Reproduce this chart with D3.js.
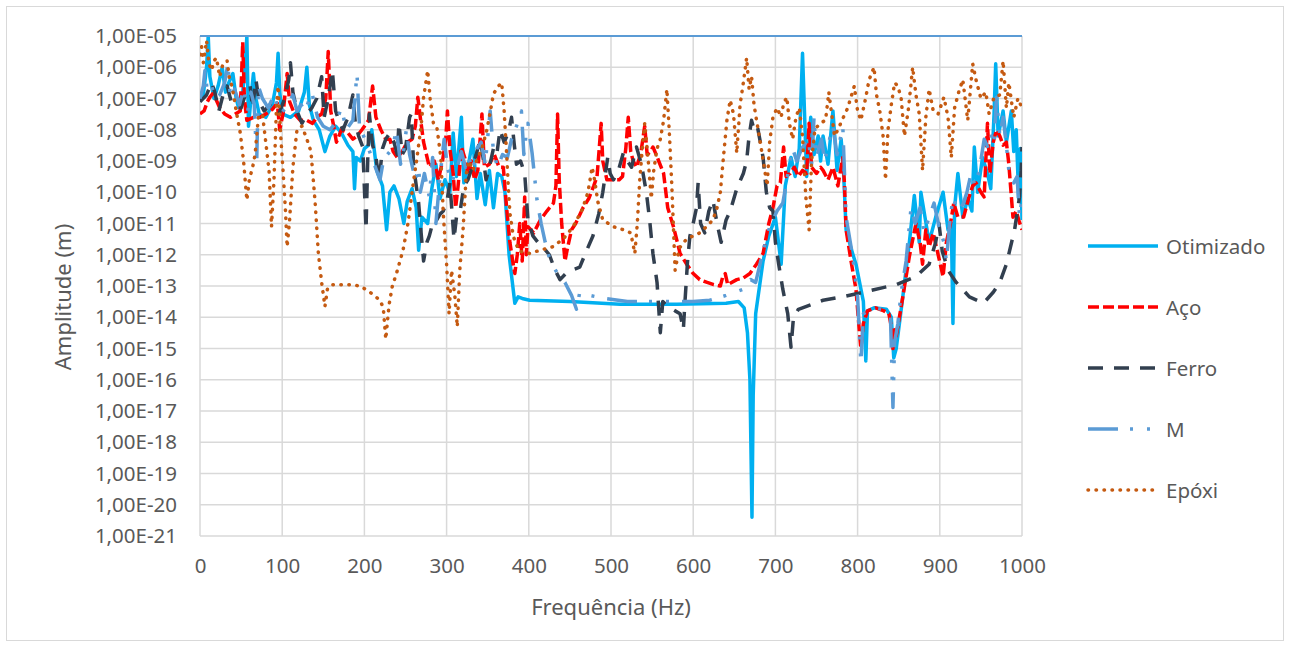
<!DOCTYPE html>
<html>
<head>
<meta charset="utf-8">
<script src="https://cdn.jsdelivr.net/npm/d3@7"></script>
<style>
  body { margin: 0; background: #fff; }
  svg { display: block; font-family: "Noto Sans", "Open Sans", sans-serif; }
</style>
</head>
<body>
<svg id="chart" width="1290" height="648"></svg>
<script>
// ---- data (frequency Hz, amplitude m) ----
const xTicks = [0, 100, 200, 300, 400, 500, 600, 700, 800, 900, 1000];
const yTicks = [1e-5, 1e-6, 1e-7, 1e-8, 1e-9, 1e-10, 1e-11, 1e-12, 1e-13,
  1e-14, 1e-15, 1e-16, 1e-17, 1e-18, 1e-19, 1e-20, 1e-21];
const seriesNames = ["Otimizado", "Aço", "Ferro", "M", "Epóxi"];

const otimizado = [[0,8.9e-8],[4,1.3e-7],[8,1e-6],[10,1e-5],[12,5e-7],[17,1e-7],[22,2.5e-7],[27,1e-6],
  [31,1.6e-7],[35,3.2e-7],[40,6.3e-7],[44,1e-7],[47,5e-8],[52,1.6e-7],[55,1e-6],[57,1e-5],[59,1.3e-8],
  [62,1e-7],[65,6.3e-7],[68,1e-7],[72,3.2e-8],[80,2.5e-8],[88,6.3e-8],[93,3.2e-7],[95,2.8e-6],[97,1.6e-7],
  [100,3.2e-8],[110,2.5e-8],[120,4e-8],[127,1.6e-7],[130,1e-6],[133,6.3e-8],[138,2e-8],[145,1e-8],
  [152,2e-9],[158,6.3e-9],[165,1.3e-8],[172,7.9e-9],[180,3.2e-9],[186,2e-9],[188,1.3e-10],[190,1.3e-9],
  [195,1e-9],[200,2.5e-9],[205,3.2e-9],[209,1e-8],[215,5e-10],[222,1.6e-10],[227,6.3e-12],[231,1e-10],
  [236,1.6e-10],[242,6.3e-11],[248,1e-11],[252,5e-11],[258,1.3e-10],[263,3.2e-11],[266,1.4e-12],
  [270,1.6e-11],[277,1e-11],[282,1.3e-10],[287,7.9e-10],[292,6.3e-11],[298,2.5e-10],[304,1e-10],
  [308,7.9e-9],[312,3.2e-10],[318,2.5e-8],[321,2e-10],[326,6.3e-10],[332,5e-9],[337,6.3e-11],[341,4e-10],
  [347,4e-11],[352,5e-10],[357,3.2e-11],[362,4e-10],[367,3.2e-10],[371,1e-10],[376,1e-12],[383,2.8e-14],
  [387,4.5e-14],[392,4e-14],[401,3.5e-14],[450,3.2e-14],[511,2.6e-14],[580,2.6e-14],[640,2.8e-14],
  [655,3.2e-14],[662,2e-14],[666,3.2e-15],[669,1e-16],[671.5,4e-21],[673,3.2e-17],[676,1.3e-14],
  [685,6.3e-13],[692,4e-12],[700,1.6e-11],[707,5e-13],[712,1.6e-10],[719,1.3e-9],[724,3.2e-10],
  [729,2.5e-9],[733,2.8e-6],[738,3.2e-10],[743,2.5e-8],[747,1.6e-9],[752,6.3e-9],[755,1e-9],[758,6.3e-9],
  [764,7.9e-10],[770,4e-8],[775,5e-10],[780,5e-9],[783,4e-10],[786,6.3e-12],[792,1.6e-12],[798,5e-13],
  [807,3.2e-14],[810,4e-16],[812,1.6e-14],[820,2e-14],[835,1.8e-14],[841,1e-14],[844,5e-16],[847,1e-15],
  [855,4.5e-14],[863,2.5e-12],[869,7.9e-11],[875,2.5e-12],[877,1e-10],[887,2.5e-12],[895,1.6e-11],
  [904,1e-10],[910,6.3e-12],[914,1e-11],[916,6.3e-15],[918,3.2e-11],[922,4e-10],[928,1.6e-11],
  [934,6.3e-11],[939,2.5e-11],[942,2.8e-9],[946,1e-10],[952,1.3e-9],[958,4e-10],[962,1.3e-10],
  [966,3.2e-8],[968,1.3e-6],[971,6.3e-9],[977,4e-8],[981,4e-9],[987,4e-8],[990,2e-9],[993,1e-8],
  [996,6.3e-11],[998,2.5e-9],[1000,1.3e-11]];

const aco = [[0,3.2e-8],[5,4e-8],[9,7.9e-8],[12,1.1e-7],[15,1.4e-7],[19,1e-7],[24,5e-8],[30,3.2e-8],
  [37,2.5e-8],[43,3.2e-8],[49,4e-8],[52,6.3e-6],[54,1e-7],[57,2e-8],[65,2.5e-8],[73,2.5e-8],[80,3.2e-8],
  [88,4.5e-8],[94,7.1e-8],[97,1e-8],[101,3.2e-8],[106,6.3e-7],[109,7.9e-8],[115,3.2e-8],[122,2e-8],
  [130,2e-8],[137,1.6e-8],[142,2.5e-8],[148,3.2e-8],[153,1e-7],[156,3.2e-6],[159,4e-8],[162,1.6e-8],
  [166,4e-9],[172,1e-8],[180,7.9e-9],[186,5e-9],[191,6.3e-9],[197,1e-8],[205,2e-8],[210,2.5e-7],
  [214,2.5e-8],[220,1e-8],[226,5e-9],[231,5e-9],[235,2e-9],[240,1.3e-9],[246,2e-9],[252,4e-9],[258,5e-9],
  [262,1.3e-8],[265,1.1e-7],[268,2.5e-8],[272,4e-9],[279,6.3e-10],[285,1e-9],[290,2.5e-10],[295,1e-9],
  [299,5e-9],[301,4e-8],[304,2.5e-9],[308,4e-10],[311,3.2e-11],[314,1.6e-10],[318,2.8e-9],[322,1.3e-9],
  [326,4e-10],[330,1e-9],[334,2.5e-10],[338,5e-10],[343,3.2e-8],[346,6.3e-10],[352,7.9e-10],[358,1.6e-9],
  [364,6.3e-10],[369,6.3e-10],[373,3.2e-11],[377,2.5e-12],[381,5e-13],[383,2.5e-13],[386,1e-12],
  [389,1e-11],[392,6.3e-13],[395,7.1e-11],[397,1e-12],[399,7.9e-12],[406,5e-12],[414,1.3e-11],
  [422,2.5e-11],[430,4.5e-11],[433,1.6e-10],[435,3.2e-8],[437,2.5e-10],[440,1e-11],[444,6.3e-13],
  [447,1.6e-12],[452,6.3e-12],[457,1e-11],[466,3.2e-11],[473,6.3e-11],[479,1.6e-10],[483,3.2e-10],
  [486,3.2e-9],[488,1.6e-8],[490,1e-9],[495,2.5e-10],[502,2.5e-10],[510,2.5e-10],[514,3.2e-10],
  [518,2.5e-9],[521,2.5e-8],[524,2e-9],[527,1e-9],[531,6.3e-10],[536,1.6e-9],[541,1.3e-8],[544,1.6e-9],
  [548,2e-9],[551,2.8e-9],[555,1.6e-9],[558,1e-9],[564,4e-10],[569,3.2e-11],[576,7.9e-12],[584,1.1e-12],
  [592,5e-13],[600,2.5e-13],[608,1.6e-13],[617,1.3e-13],[625,1.1e-13],[633,1e-13],[636,2e-13],
  [639,2.5e-13],[642,1.1e-13],[653,1.6e-13],[661,1.8e-13],[669,2.5e-13],[677,5e-13],[685,1.1e-12],
  [692,1e-11],[697,3.2e-11],[702,1.6e-10],[706,2e-10],[710,2.8e-9],[713,3.2e-10],[718,4e-10],
  [723,6.3e-10],[728,3.2e-10],[733,5e-10],[738,4e-10],[741,1.6e-8],[744,6.3e-10],[750,4e-10],
  [755,6.3e-10],[758,5e-10],[764,2.5e-10],[770,6.3e-10],[776,1.6e-10],[782,1.3e-9],[784,2e-10],
  [786,6.3e-12],[792,6.3e-13],[798,7.9e-14],[802,4e-15],[804,1e-15],[807,6.3e-15],[812,1.6e-14],
  [822,2e-14],[832,1.6e-14],[838,1.3e-14],[841,5e-15],[843,1e-15],[845,4e-15],[847,2.5e-15],
  [855,4.5e-14],[863,8.9e-13],[871,1e-11],[876,2.5e-12],[879,5e-13],[883,6.3e-12],[887,1.8e-12],
  [892,5e-12],[897,1.3e-12],[904,2e-13],[908,2.5e-12],[913,1e-11],[917,4.5e-11],[922,1.6e-11],
  [929,1.6e-11],[935,6.3e-11],[940,1.6e-10],[944,2e-10],[950,1e-10],[954,7.1e-11],[958,1.6e-8],
  [961,4e-10],[965,4e-9],[969,1e-8],[973,6.3e-9],[977,3.2e-9],[981,4e-9],[984,7.9e-10],[989,1.6e-11],
  [993,2.5e-11],[996,1.3e-11],[1000,6.3e-12]];

const ferro = [[0,7.9e-8],[8,1.3e-7],[14,3.2e-7],[18,1.6e-7],[23,4e-8],[28,1.3e-7],[33,2.5e-7],
  [38,7.9e-8],[43,6.3e-8],[50,5e-8],[55,1.3e-7],[61,2.5e-7],[64,5e-8],[68,4e-7],[72,7.9e-8],[78,4e-8],
  [85,6.3e-8],[90,5e-8],[96,3.2e-8],[103,1e-7],[108,4e-7],[110,1.4e-6],[113,1.6e-7],[118,4e-8],
  [124,1.6e-8],[130,3.2e-8],[136,5e-8],[142,1e-7],[148,5e-7],[151,2.5e-8],[156,1e-7],[161,7.9e-7],
  [165,4e-8],[170,1.6e-8],[174,1e-8],[180,2.5e-8],[186,1.3e-7],[189,1.6e-8],[193,6.3e-9],[198,2.8e-9],
  [202,6.3e-12],[204,1e-9],[206,3.2e-8],[210,3.2e-9],[214,1.3e-9],[218,2.5e-10],[222,2.5e-9],[226,5e-9],
  [231,7.9e-9],[236,4e-9],[240,1.6e-9],[242,1.6e-8],[246,1.6e-9],[250,2.5e-9],[255,2.5e-8],[257,3.2e-8],
  [260,6.3e-10],[266,4.5e-11],[269,5e-12],[272,6.3e-13],[276,2.5e-12],[279,4e-12],[284,1.3e-11],
  [288,1.3e-11],[292,2e-11],[296,2.5e-11],[301,6.3e-11],[304,2e-10],[307,1.6e-11],[309,3.2e-12],
  [312,1.6e-11],[316,2e-11],[321,1.6e-10],[326,2.5e-10],[331,6.3e-10],[336,1.6e-9],[341,5e-9],[345,1e-9],
  [348,2.5e-10],[352,6.3e-10],[357,2.5e-9],[361,1.6e-9],[365,1e-8],[370,4e-9],[375,7.9e-9],[379,2.5e-8],
  [382,4e-9],[385,7.9e-10],[390,1e-9],[395,4e-10],[399,1.3e-11],[405,4e-12],[411,2.5e-12],[417,1.8e-12],
  [425,1e-12],[432,3.2e-13],[438,1.6e-13],[445,2.5e-13],[452,3.2e-13],[462,4e-13],[470,1.3e-12],
  [478,4e-12],[485,2e-11],[490,1e-10],[496,1.3e-9],[499,4e-10],[503,2.5e-10],[509,5e-10],[515,1.8e-9],
  [520,1e-9],[525,6.3e-10],[531,2.8e-9],[537,7.9e-10],[543,1e-10],[547,1.3e-11],[551,1.1e-12],
  [556,1.3e-13],[560,3.2e-15],[563,3.2e-14],[567,2.5e-14],[572,2e-14],[578,1.6e-14],[584,1.3e-14],
  [588,4e-15],[590,3.2e-14],[593,5.6e-13],[596,4e-12],[600,1e-11],[604,3.2e-11],[606,2e-10],[609,1e-11],
  [614,5e-12],[619,2.5e-11],[624,5.6e-11],[629,1e-11],[634,2.5e-12],[640,1.3e-11],[645,2.5e-11],
  [653,1.3e-10],[661,4e-10],[665,1e-9],[668,6.3e-9],[671,2e-8],[674,1e-8],[678,1.3e-8],[681,5e-9],
  [685,1.3e-9],[689,1e-10],[693,3.2e-11],[697,2.5e-11],[700,2.5e-12],[704,5e-13],[709,7.9e-14],
  [715,1.3e-14],[719,1.1e-15],[722,1e-14],[728,1.8e-14],[737,2.2e-14],[758,3.5e-14],[782,4.5e-14],
  [807,6.3e-14],[831,8.9e-14],[847,1.1e-13],[871,2e-13],[887,5e-13],[895,2.5e-12],[899,1e-11],
  [903,1.3e-12],[910,3.2e-13],[920,1.3e-13],[936,4.5e-14],[953,2.8e-14],[965,6.3e-14],[973,1.3e-13],
  [981,5e-13],[991,6.3e-12],[997,7.1e-11],[999,5e-10],[1000,2.8e-9]];

const mSeries = [[0,1e-7],[4,2.5e-7],[6,7.9e-7],[9,1.6e-7],[14,2.5e-7],[19,1e-7],[24,1.3e-7],[30,3.2e-7],
  [34,1.3e-6],[37,1e-7],[42,2e-7],[48,6.3e-8],[53,2e-7],[58,4e-8],[62,1.6e-7],[66,6.3e-8],[69,1e-9],
  [71,2.5e-7],[76,1e-7],[83,5e-8],[90,1.3e-7],[97,3.2e-8],[105,5e-8],[113,1.3e-7],[118,4e-8],[123,6.3e-8],
  [128,4e-8],[136,1.6e-7],[143,2.5e-8],[150,1.3e-8],[158,1e-8],[165,1.6e-8],[172,5e-8],[178,1e-8],
  [186,2e-8],[191,6.3e-7],[194,1.3e-8],[199,6.3e-9],[205,2.5e-9],[212,7.9e-10],[219,2.5e-10],[223,1e-9],
  [228,1.6e-9],[234,2.5e-9],[239,1e-8],[244,7.9e-10],[248,2.5e-9],[251,1e-8],[255,1.6e-9],[262,2.5e-10],
  [266,6.3e-10],[268,1e-10],[273,4e-10],[279,7.1e-11],[283,1.3e-9],[287,1e-11],[292,3.2e-10],[297,5e-9],
  [301,6.3e-10],[306,2e-10],[312,5e-10],[318,2e-9],[323,6.3e-10],[327,1.3e-9],[332,5e-10],[337,2.5e-9],
  [342,4e-9],[347,7.9e-10],[353,4e-8],[357,2e-9],[362,6.3e-10],[368,1.6e-9],[374,1.3e-9],[379,5e-9],
  [385,1.3e-8],[391,4e-8],[394,1.6e-9],[397,7.9e-9],[399,1.6e-8],[404,1.8e-9],[410,5.6e-11],[415,1e-11],
  [420,2.5e-12],[426,6.3e-13],[435,2.5e-13],[444,1.3e-13],[452,5e-14],[458,1.8e-14],[462,6.3e-14],
  [474,5e-14],[492,4e-14],[520,3.2e-14],[560,3.2e-14],[600,3.2e-14],[620,3.5e-14],[640,5e-14],
  [661,7.9e-14],[670,1.6e-13],[676,1.3e-13],[685,1.3e-12],[693,7.9e-12],[702,2.5e-11],[709,4.5e-11],
  [714,2.5e-10],[717,7.9e-10],[721,2.5e-9],[726,1e-9],[732,2.5e-9],[740,5e-9],[744,7.9e-10],[747,2.5e-8],
  [750,1.3e-9],[756,5e-9],[760,1e-9],[765,4e-9],[770,1.3e-8],[775,1.6e-9],[782,1.3e-8],[786,1.6e-11],
  [794,8.9e-13],[800,4.5e-14],[804,3.5e-16],[807,1.3e-14],[819,2e-14],[830,1.8e-14],[840,1e-14],
  [843,1.3e-17],[845,1.6e-15],[849,6.3e-15],[853,6.3e-14],[859,6.3e-13],[865,3.2e-11],[870,1e-11],
  [876,3.2e-11],[881,5e-12],[887,1.6e-11],[893,4.5e-11],[899,7.9e-12],[905,2.5e-12],[908,6.3e-13],
  [912,1e-11],[916,7.1e-11],[922,2.5e-11],[928,4e-11],[933,1e-10],[938,4e-10],[943,1.6e-10],[948,5e-10],
  [954,5e-9],[959,2.5e-9],[963,6.3e-9],[966,3.2e-9],[969,1.1e-7],[973,6.3e-9],[977,2.5e-8],[981,3.2e-9],
  [984,5e-10],[990,2e-10],[994,3.2e-10],[997,1.6e-11],[1000,6.3e-11]];

const epoxi = [[0,2.5e-6],[2,4.5e-6],[4,1.4e-6],[6,3.2e-6],[8,7.1e-6],[11,1.3e-6],[14,7.9e-7],[17,1.6e-6],
  [20,2e-6],[24,5e-7],[28,1.3e-6],[33,1.6e-6],[36,4e-7],[39,2.5e-7],[44,4e-8],[49,7.9e-9],[53,1e-9],
  [57,5.6e-11],[60,2.5e-10],[64,6.3e-10],[67,1.6e-9],[71,2.5e-8],[76,3.2e-8],[80,4e-9],[84,5e-10],
  [87,7.9e-12],[90,2.5e-10],[93,5e-8],[95,2.5e-7],[98,7.9e-9],[101,5e-10],[104,2.5e-11],[106,1.8e-12],
  [109,1.3e-11],[113,6.3e-10],[118,1e-8],[124,1.3e-8],[130,5e-9],[135,2e-9],[140,5e-11],[144,1.1e-12],
  [148,1.3e-13],[152,2.2e-14],[155,7.9e-14],[160,1.1e-13],[170,1.1e-13],[182,1.1e-13],[195,1e-13],
  [207,6.3e-14],[219,3.5e-14],[223,2e-14],[226,2e-15],[230,2.5e-14],[234,1e-13],[239,2.5e-13],
  [247,1.4e-12],[253,1e-11],[259,1.6e-10],[264,1.3e-9],[269,1.3e-8],[272,1.1e-7],[277,7.9e-7],[280,1e-7],
  [284,1.6e-8],[288,1.3e-8],[293,1.3e-9],[296,2e-11],[300,5e-13],[303,1.3e-14],[306,3.2e-13],[310,5e-14],
  [313,5e-15],[316,3.2e-13],[320,6.3e-12],[324,4e-10],[327,1e-9],[332,5e-10],[338,1.3e-9],[343,2.5e-9],
  [349,1e-8],[354,5e-8],[357,1.4e-7],[363,2.5e-7],[367,3.2e-7],[370,4e-8],[373,1.8e-9],[375,1.6e-10],
  [377,2.2e-11],[381,4e-12],[388,1.3e-12],[401,1.1e-12],[414,1.4e-12],[429,1.8e-12],[442,3.2e-12],
  [454,7.9e-12],[465,2.8e-11],[472,1e-10],[477,6.3e-10],[480,2.5e-10],[484,5e-11],[490,1.3e-11],
  [503,7.9e-12],[515,6.3e-12],[524,5e-12],[529,1.1e-12],[532,1e-11],[535,2.5e-10],[539,5e-9],[541,1.6e-8],
  [545,1.3e-9],[549,6.3e-11],[552,5e-10],[556,2.5e-9],[560,5e-9],[564,2e-8],[568,2e-7],[571,7.9e-9],
  [574,1.6e-10],[578,3.2e-13],[583,1.6e-12],[592,3.2e-12],[600,4e-12],[608,5e-12],[616,7.9e-12],
  [624,1.3e-11],[629,3.2e-11],[633,1e-10],[636,7.9e-10],[641,2e-8],[645,8.9e-8],[649,3.2e-8],[653,1.8e-9],
  [657,6.3e-8],[661,3.2e-7],[665,2e-6],[668,2e-7],[671,5e-7],[674,6.3e-8],[679,1e-8],[685,1.1e-9],
  [690,1.6e-10],[693,4e-9],[697,2.5e-8],[702,5e-8],[707,2.5e-8],[710,7.1e-8],[714,1.1e-7],[717,1.6e-8],
  [721,5e-9],[725,2.5e-8],[729,5e-8],[733,6.3e-9],[737,7.1e-11],[741,6.3e-12],[744,1e-9],[748,1e-8],
  [754,1.6e-8],[761,2e-8],[765,1.6e-7],[769,2.5e-8],[772,6.3e-9],[776,1e-8],[781,2e-8],[788,5e-8],
  [796,2.5e-7],[800,4e-8],[804,2e-8],[810,1.1e-7],[814,4e-7],[820,1e-6],[823,1.3e-7],[827,4e-8],
  [831,6.3e-9],[834,2.5e-10],[837,1e-8],[841,6.3e-8],[845,3.2e-7],[849,2.5e-7],[853,1e-7],[857,6.3e-9],
  [862,5e-8],[867,1e-6],[871,1.3e-7],[875,3.2e-8],[879,5e-10],[883,2.5e-8],[887,2e-7],[892,4e-8],
  [898,3.2e-8],[905,1.1e-7],[910,2.5e-8],[914,1.3e-9],[918,5e-8],[923,1.6e-7],[928,4e-7],[934,2e-8],
  [940,1.3e-6],[944,4e-7],[950,1e-7],[956,1.6e-7],[960,3.2e-8],[966,1.1e-7],[973,1.3e-7],[977,1.6e-6],
  [981,5e-8],[984,3.2e-7],[990,2.5e-8],[995,1e-7],[1000,5e-8]];

const seriesData = [otimizado, aco, ferro, mSeries, epoxi];

// ---- styles (kept apart from data) ----
const styles = [
  { color: "#00B0F0", width: 3.5, dash: null, cap: "butt" },
  { color: "#FF0000", width: 3.5, dash: "11,4", cap: "butt" },
  { color: "#323F4F", width: 3.5, dash: "15,11", cap: "butt" },
  { color: "#5B9BD5", width: 3.5, dash: "30,12,3,14,3,13", cap: "butt" },
  { color: "#C55A11", width: 3.5, dash: "0.5,7.5", cap: "round" },
];

const margin = { top: 36, left: 200, right: 268, bottom: 112 };
const W = 1290, H = 648;
const textColor = "#595959";

const svg = d3.select("#chart");

// outer chart border
svg.append("rect")
  .attr("x", 6.5).attr("y", 6.5)
  .attr("width", 1277).attr("height", 634)
  .attr("fill", "#fff").attr("stroke", "#D9D9D9").attr("stroke-width", 1);

const x = d3.scaleLinear().domain([0, 1000]).range([margin.left, W - margin.right]);
const y = d3.scaleLog().domain([1e-21, 1e-5]).range([H - margin.bottom, margin.top]);

const fmtExp = (d) => {
  const e = Math.round(Math.log10(d));
  return "1,00E" + (e < 0 ? "-" : "+") + String(Math.abs(e)).padStart(2, "0");
};

// gridlines
svg.append("g")
  .selectAll("line")
  .data(yTicks)
  .join("line")
  .attr("x1", x(0)).attr("x2", x(1000))
  .attr("y1", (d) => y(d)).attr("y2", (d) => y(d))
  .attr("stroke", "#D9D9D9").attr("stroke-width", 1.5);

svg.append("g")
  .selectAll("line")
  .data(xTicks)
  .join("line")
  .attr("x1", (d) => x(d)).attr("x2", (d) => x(d))
  .attr("y1", y(1e-5)).attr("y2", y(1e-21))
  .attr("stroke", "#D9D9D9").attr("stroke-width", 1.5);

// axes (labels only)
const yAxis = svg.append("g")
  .attr("transform", `translate(${x(0)},0)`)
  .call(d3.axisLeft(y).tickValues(yTicks).tickFormat(fmtExp).tickSize(0).tickPadding(23));
yAxis.select(".domain").remove();
yAxis.selectAll("text").attr("fill", textColor).style("font-size", "20.5px")
  .style("font-family", '"Noto Sans", sans-serif');

const xAxis = svg.append("g")
  .attr("transform", `translate(0,${y(1e-21)})`)
  .call(d3.axisBottom(x).tickValues(xTicks).tickFormat(d3.format("d")).tickSize(0).tickPadding(22));
xAxis.select(".domain").remove();
xAxis.selectAll("text").attr("fill", textColor).style("font-size", "20.5px")
  .style("font-family", '"Noto Sans", sans-serif');

// axis titles
svg.append("text")
  .attr("transform", `translate(62,${(y(1e-5) + y(1e-21)) / 2 + 11}) rotate(-90)`)
  .attr("text-anchor", "middle").attr("dominant-baseline", "central")
  .attr("fill", textColor).style("font-size", "22px")
  .text("Amplitude (m)");

svg.append("text")
  .attr("x", (x(0) + x(1000)) / 2).attr("y", 606)
  .attr("text-anchor", "middle").attr("dominant-baseline", "central")
  .attr("fill", textColor).style("font-size", "22px")
  .text("Frequência (Hz)");

// clip for the plotting area
svg.append("clipPath").attr("id", "plotClip")
  .append("rect")
  .attr("x", x(0)).attr("y", y(1e-5))
  .attr("width", x(1000) - x(0)).attr("height", y(1e-21) - y(1e-5));

const line = d3.line()
  .x((d) => x(d[0]))
  .y((d) => y(d[1]));

const plot = svg.append("g").attr("clip-path", "url(#plotClip)");

seriesData.forEach((data, i) => {
  const s = styles[i];
  plot.append("path")
    .datum(data)
    .attr("d", line)
    .attr("fill", "none")
    .attr("stroke", s.color)
    .attr("stroke-width", s.width)
    .attr("stroke-linejoin", "round")
    .attr("stroke-linecap", s.cap)
    .attr("stroke-dasharray", s.dash);
});

// top boundary line
svg.append("line")
  .attr("x1", x(0)).attr("x2", x(1000))
  .attr("y1", y(1e-5)).attr("y2", y(1e-5))
  .attr("stroke", "#5B9BD5").attr("stroke-width", 2);

// legend
const legendY = [246, 307, 368, 429, 490];
const legend = svg.append("g");
seriesNames.forEach((name, i) => {
  const s = styles[i];
  legend.append("line")
    .attr("x1", 1088).attr("x2", 1158)
    .attr("y1", legendY[i]).attr("y2", legendY[i])
    .attr("stroke", s.color)
    .attr("stroke-width", s.width)
    .attr("stroke-linecap", s.cap)
    .attr("stroke-dasharray", s.dash);
  legend.append("text")
    .attr("x", 1166).attr("y", legendY[i])
    .attr("dominant-baseline", "central")
    .attr("fill", textColor).style("font-size", "20.5px")
    .text(name);
});
</script>
</body>
</html>
